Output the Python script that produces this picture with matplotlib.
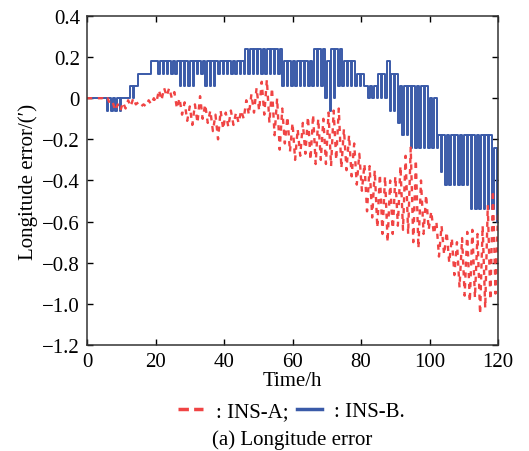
import numpy as np
import matplotlib.pyplot as plt
from matplotlib.lines import Line2D

plt.rcParams['font.family'] = ['Liberation Serif', 'DejaVu Serif']

# x / y axis ticks
xticks = [0, 20, 40, 60, 80, 100, 120]
yticks = [0.4, 0.2, 0, -0.2, -0.4, -0.6, -0.8, -1.0, -1.2]
ytick_labels = ["0.4", "0.2", "0", "\u22120.2", "\u22120.4", "\u22120.6",
                "\u22120.8", "\u22121.0", "\u22121.2"]

# INS-A (red dashed): peak values every 1.5 h and trough values half a cycle later
red_hi = [0, 0, 0, 0, 0, -0.02, -0.03, -0.02, -0.01, 0.0,
          -0.02, -0.03, -0.01, 0.0, 0.04, 0.05, 0.05, 0.03, 0.0, -0.02,
          -0.04, -0.03, 0.01, -0.03, -0.06, -0.08, -0.06, -0.07, -0.06, -0.07,
          -0.06, -0.01, 0.02, 0.05, 0.08, 0.09, 0.05, 0.0, -0.05, -0.09,
          -0.12, -0.15, -0.12, -0.09, -0.08, -0.10, -0.10, -0.07, -0.06, -0.05,
          -0.15, -0.18, -0.22, -0.27, -0.32, -0.33, -0.35, -0.37, -0.38, -0.40,
          -0.38, -0.33, -0.28, -0.24, -0.30, -0.40, -0.47, -0.55, -0.60, -0.62,
          -0.65, -0.68, -0.70, -0.68, -0.65, -0.64, -0.66, -0.62, -0.52, -0.45,
          -0.55]
red_lo = [0, 0, 0, -0.01, -0.03, -0.06, -0.06, -0.05, -0.04, -0.03,
          -0.04, -0.04, -0.03, -0.02, -0.01, 0.01, 0.0, -0.05, -0.08, -0.11,
          -0.13, -0.12, -0.10, -0.12, -0.16, -0.20, -0.15, -0.14, -0.13, -0.12,
          -0.10, -0.08, -0.07, -0.06, -0.08, -0.12, -0.18, -0.25, -0.22, -0.26,
          -0.30, -0.28, -0.27, -0.30, -0.32, -0.30, -0.32, -0.33, -0.30, -0.34,
          -0.35, -0.38, -0.42, -0.45, -0.55, -0.58, -0.63, -0.66, -0.70, -0.66,
          -0.62, -0.64, -0.66, -0.70, -0.73, -0.66, -0.64, -0.66, -0.77, -0.76,
          -0.80, -0.86, -0.92, -0.96, -0.99, -0.97, -1.05, -1.02, -0.98, -0.95]
red_step = 1.5

# INS-B (blue solid): quantised levels, base level a with short pulses to level b
blue_start = [0.0, 4.7, 9.9, 11.3, 12.6, 14.2, 17.7, 19.9, 25.7, 30.5,
              33.0, 36.5, 43.8, 45.0, 46.0, 55.4, 57.5, 65.6, 68.0, 69.0,
              70.2, 71.5, 73.9, 78.3, 80.7, 84.1, 86.5, 87.7, 89.5, 90.5,
              93.5, 99.0, 102.5, 103.7, 110.9, 117.7]
blue_a = [0, 0, 0, 0.06, 0.06, 0.12, 0.18, 0.18, 0.18, 0.18,
          0.18, 0.18, 0.18, 0.18, 0.24, 0.24, 0.18, 0.24, 0.24, 0.18,
          0.24, 0.24, 0.18, 0.12, 0.06, 0.12, 0.18, 0.12, 0.12, 0.06,
          0.06, 0.0, -0.18, -0.18, -0.18, -0.24]
blue_b = [0, -0.06, 0, 0, 0.06, 0.12, 0.18, 0.12, 0.06, 0.12,
          0.06, 0.12, 0.24, 0.12, 0.12, 0.06, 0.06, 0.06, 0.0, -0.06,
          0.0, 0.06, 0.06, 0.06, 0.0, 0.0, -0.06, -0.06, -0.12, -0.18,
          -0.24, -0.24, -0.36, -0.42, -0.54, -0.60]
blue_end = -0.30
blue_period = 1.25

# build the zig-zag for INS-A
red_t, red_v = [], []
for k in range(len(red_lo)):
    red_t += [k * red_step, k * red_step + red_step / 2]
    red_v += [red_hi[k], red_lo[k]]
red_t.append((len(red_hi) - 1) * red_step)
red_v.append(red_hi[-1])

# build the step signal for INS-B
blue_t, blue_v = [], []
for c in np.arange(0, 120, blue_period):
    i = np.searchsorted(blue_start, c, side="right") - 1
    blue_t += [c, c + 0.65 * blue_period]
    blue_v += [blue_a[i], blue_b[i]]
blue_t.append(120)
blue_v.append(blue_end)

red = "#f04444"
blue = "#3a5aa8"

fig = plt.figure(figsize=(5.29, 4.52), dpi=100)
ax = fig.add_axes([0.1645, 0.2345, 0.777, 0.728])

ax.plot(blue_t, blue_v, color=blue, lw=1.4, drawstyle="steps-post")
ax.plot(red_t, red_v, color=red, lw=1.7, ls=(0, (2.2, 2.4)))

ax.set_xlim(0, 120)
ax.set_ylim(-1.2, 0.4)
ax.set_xticks(xticks)
ax.set_yticks(yticks)
ax.set_yticklabels(ytick_labels)
ax.tick_params(direction="in", top=True, right=True, length=4, width=1,
               labelsize=15, pad=5, colors="black")
for s in ax.spines.values():
    s.set_linewidth(1.1)
    s.set_color("#333333")

ax.set_xlabel("Time/h", fontsize=15, labelpad=0)
ax.set_ylabel("Longitude error/(\u2032)", fontsize=15, labelpad=3)

handles = [Line2D([], [], color=red, lw=2.5, ls=(0, (3, 1.5))),
           Line2D([], [], color=blue, lw=2.5)]
fig.legend(handles, [": INS-A;", ": INS-B."], loc="center",
           bbox_to_anchor=(0.551, 0.088), ncol=2, frameon=False, fontsize=15,
           handlelength=1.2, handletextpad=0.6, columnspacing=0.4,
           borderpad=0, borderaxespad=0)
fig.text(0.552, 0.027, "(a) Longitude error", ha="center", va="center",
         fontsize=15)

fig.savefig("out.png", dpi=100)
